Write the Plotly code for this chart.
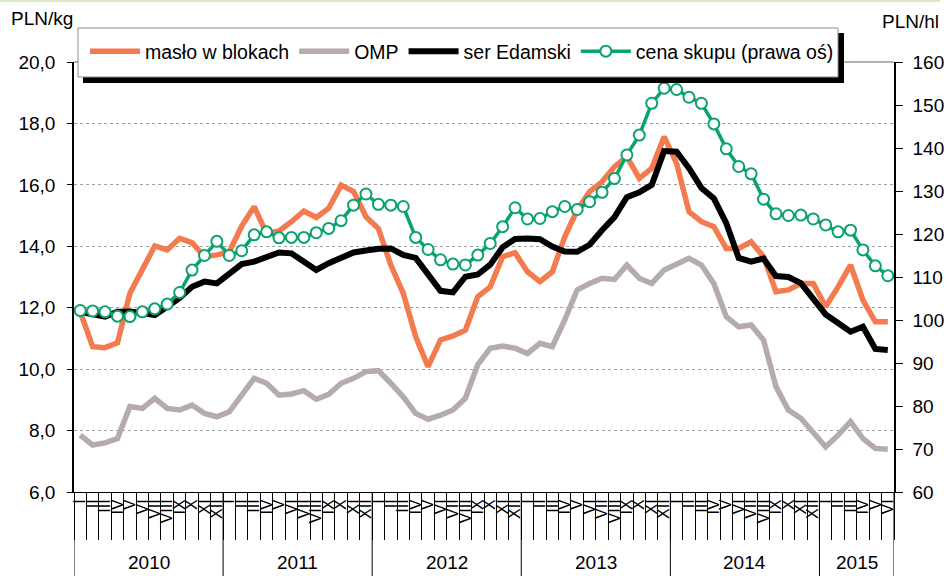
import plotly.graph_objects as go

years = ["2010", "2011", "2012", "2013", "2014", "2015"]
months_per_year = [12, 12, 12, 12, 12, 6]
roman = ["I", "II", "III", "IV", "V", "VI", "VII", "VIII", "IX", "X", "XI", "XII"]

maslo = [11.87, 10.73, 10.70, 10.86, 12.47, 13.23, 14.01, 13.88, 14.26, 14.12, 13.66, 13.72,
         13.82, 14.66, 15.29, 14.42, 14.50, 14.80, 15.15, 14.94, 15.24, 15.99, 15.78, 14.96,
         14.58, 13.39, 12.47, 11.06, 10.08, 10.95, 11.08, 11.27, 12.36, 12.68, 13.66, 13.79,
         13.17, 12.85, 13.17, 14.31, 15.18, 15.78, 16.10, 16.59, 16.92, 16.21, 16.54, 17.57,
         16.70, 15.13, 14.80, 14.64, 13.93, 13.93, 14.15, 13.66, 12.52, 12.58, 12.79, 12.79,
         12.03, 12.68, 13.39, 12.25, 11.54, 11.54]
omp = [7.85, 7.53, 7.60, 7.74, 8.78, 8.72, 9.05, 8.72, 8.67, 8.83, 8.56, 8.45,
       8.61, 9.16, 9.70, 9.54, 9.15, 9.19, 9.30, 9.02, 9.18, 9.54, 9.70, 9.92,
       9.95, 9.54, 9.10, 8.56, 8.37, 8.50, 8.67, 9.05, 10.15, 10.68, 10.75, 10.68,
       10.51, 10.84, 10.73, 11.60, 12.58, 12.79, 12.96, 12.92, 13.39, 12.96, 12.79, 13.23,
       13.42, 13.61, 13.39, 12.79, 11.71, 11.38, 11.44, 10.95, 9.43, 8.67, 8.40, 7.91,
       7.47, 7.85, 8.29, 7.74, 7.42, 7.39]
ser = [11.87, 11.78, 11.71, 11.87, 11.88, 11.83, 11.76, 12.03, 12.32, 12.68, 12.85, 12.79,
       13.12, 13.42, 13.50, 13.66, 13.80, 13.77, 13.50, 13.23, 13.45, 13.60, 13.80, 13.86,
       13.92, 13.93, 13.72, 13.62, 13.06, 12.55, 12.50, 13.01, 13.08, 13.40, 13.97, 14.24,
       14.25, 14.23, 13.99, 13.83, 13.82, 14.05, 14.52, 14.95, 15.60, 15.76, 16.00, 17.10,
       17.08, 16.54, 15.90, 15.56, 14.75, 13.62, 13.50, 13.60, 13.03, 13.00, 12.80, 12.27,
       11.78, 11.50, 11.22, 11.38, 10.66, 10.62]
cena = [102.2, 102.1, 101.9, 100.9, 100.8, 101.9, 102.6, 103.7, 106.4, 111.6, 115.0, 118.3,
        115.0, 116.1, 119.8, 120.5, 119.1, 119.2, 119.2, 120.3, 121.3, 123.1, 126.7, 129.3,
        126.9, 126.7, 126.4, 119.2, 116.4, 114.0, 113.0, 112.8, 115.1, 117.8, 121.7, 126.1,
        123.5, 123.6, 125.2, 126.4, 125.7, 127.5, 129.7, 132.9, 138.4, 143.0, 150.4, 153.9,
        153.6, 151.8, 150.4, 145.6, 139.8, 135.7, 134.0, 128.1, 124.7, 124.3, 124.4, 123.5,
        122.1, 120.5, 120.9, 116.3, 112.6, 110.3]

n = sum(months_per_year)
x = list(range(n))
ticktext = []
for m in months_per_year:
    ticktext += roman[:m]

FONT = "Arial, Liberation Sans, sans-serif"
fig = go.Figure()
fig.add_trace(go.Scatter(x=x, y=maslo, name="masło w blokach", mode="lines",
                         line=dict(color="#F47A4F", width=5.5)))
fig.add_trace(go.Scatter(x=x, y=omp, name="OMP", mode="lines",
                         line=dict(color="#B5ABAB", width=5.5)))
fig.add_trace(go.Scatter(x=x, y=ser, name="ser Edamski", mode="lines",
                         line=dict(color="#000000", width=6)))
fig.add_trace(go.Scatter(x=x, y=cena, name="cena skupu (prawa oś)", mode="lines+markers", yaxis="y2",
                         line=dict(color="#0AA36B", width=3.5),
                         marker=dict(symbol="circle", size=11, color="white",
                                     line=dict(color="#0AA36B", width=2))))

L, R, T, B = 74, 55, 62, 84
W, H = 949, 576
pw, ph = W - L - R, H - T - B

def px_x(p):
    return (p - L) / pw

def px_y(p):
    return 1 + (T - p) / ph

shapes = []
# year separators
b = -0.5
bounds = [b]
for m in months_per_year:
    b += m
    bounds.append(b)
for bx in bounds:
    shapes.append(dict(type="line", xref="x", yref="paper", x0=bx, x1=bx, y0=0, y1=-B / ph,
                       line=dict(color="black", width=1)))
# top border of plot
shapes.append(dict(type="line", xref="paper", yref="paper", x0=0, x1=1, y0=1, y1=1,
                   line=dict(color="#999999", width=1.5)))
# top light green border of chart
shapes.append(dict(type="line", xref="paper", yref="paper", x0=px_x(0), x1=px_x(940), y0=px_y(1), y1=px_y(1),
                   line=dict(color="#DCEBC8", width=2)))
# legend shadow and box
shapes.append(dict(type="rect", xref="paper", yref="paper", x0=px_x(83), x1=px_x(844),
                   y0=px_y(83), y1=px_y(33), fillcolor="black", line=dict(width=0), layer="above"))
shapes.append(dict(type="rect", xref="paper", yref="paper", x0=px_x(78), x1=px_x(838),
                   y0=px_y(77), y1=px_y(28), fillcolor="white", line=dict(color="#909090", width=1),
                   layer="above"))

annotations = []
for i, yr in enumerate(years):
    cx = (bounds[i] + bounds[i + 1]) / 2
    annotations.append(dict(x=cx, y=px_y(562), xref="x", yref="paper", text=yr, showarrow=False,
                            font=dict(size=19, color="black", family=FONT), yanchor="middle"))
annotations.append(dict(x=px_x(9), y=px_y(18), xref="paper", yref="paper", text="PLN/kg", showarrow=False,
                        xanchor="left", yanchor="middle", font=dict(size=19, color="black", family=FONT)))
annotations.append(dict(x=px_x(941), y=px_y(21), xref="paper", yref="paper", text="PLN/hl", showarrow=False,
                        xanchor="right", yanchor="middle", font=dict(size=19, color="black", family=FONT)))

fig.update_layout(
    width=W, height=H, margin=dict(l=L, r=R, t=T, b=B, pad=0, autoexpand=False),
    paper_bgcolor="white", plot_bgcolor="white",
    separators=", ",
    font=dict(family=FONT, size=19, color="black"),
    showlegend=True,
    legend=dict(orientation="h", x=px_x(85), y=px_y(32), xanchor="left", yanchor="top",
                bgcolor="rgba(0,0,0,0)", borderwidth=0,
                font=dict(size=19.5, family=FONT, color="black"), itemwidth=50,
                traceorder="normal"),
    xaxis=dict(range=[-0.5, n - 0.5], tickmode="array", tickvals=x, ticktext=ticktext,
               tickangle=-90, ticks="", tickfont=dict(size=16, family=FONT),
               showgrid=False, zeroline=False, showline=True, linecolor="black", linewidth=1,
               automargin=False,
               minor=dict(ticks="outside", ticklen=47, tickcolor="black", tickwidth=1,
                          tick0=-0.5, dtick=1, showgrid=False)),
    yaxis=dict(range=[6, 20], dtick=2, tick0=6, tickformat=".1f", showgrid=True,
               gridcolor="#A0A0A0", griddash="dot", gridwidth=1, zeroline=False, automargin=False,
               showline=True, linecolor="black", linewidth=1.5, ticks="outside", ticklen=5,
               tickcolor="black", ticklabelstandoff=8, tickfont=dict(size=19, family=FONT)),
    yaxis2=dict(range=[60, 160], dtick=10, tick0=60, overlaying="y", side="right", automargin=False,
                showgrid=False, zeroline=False, showline=True, linecolor="black", linewidth=1.5,
                ticks="outside", ticklen=7, tickcolor="black", ticklabelstandoff=6,
                tickfont=dict(size=19, family=FONT)),
    shapes=shapes, annotations=annotations,
)

fig.write_html("out.html", config={"displayModeBar": False},
               post_script="document.body.style.margin='0';document.body.style.padding='0';")
